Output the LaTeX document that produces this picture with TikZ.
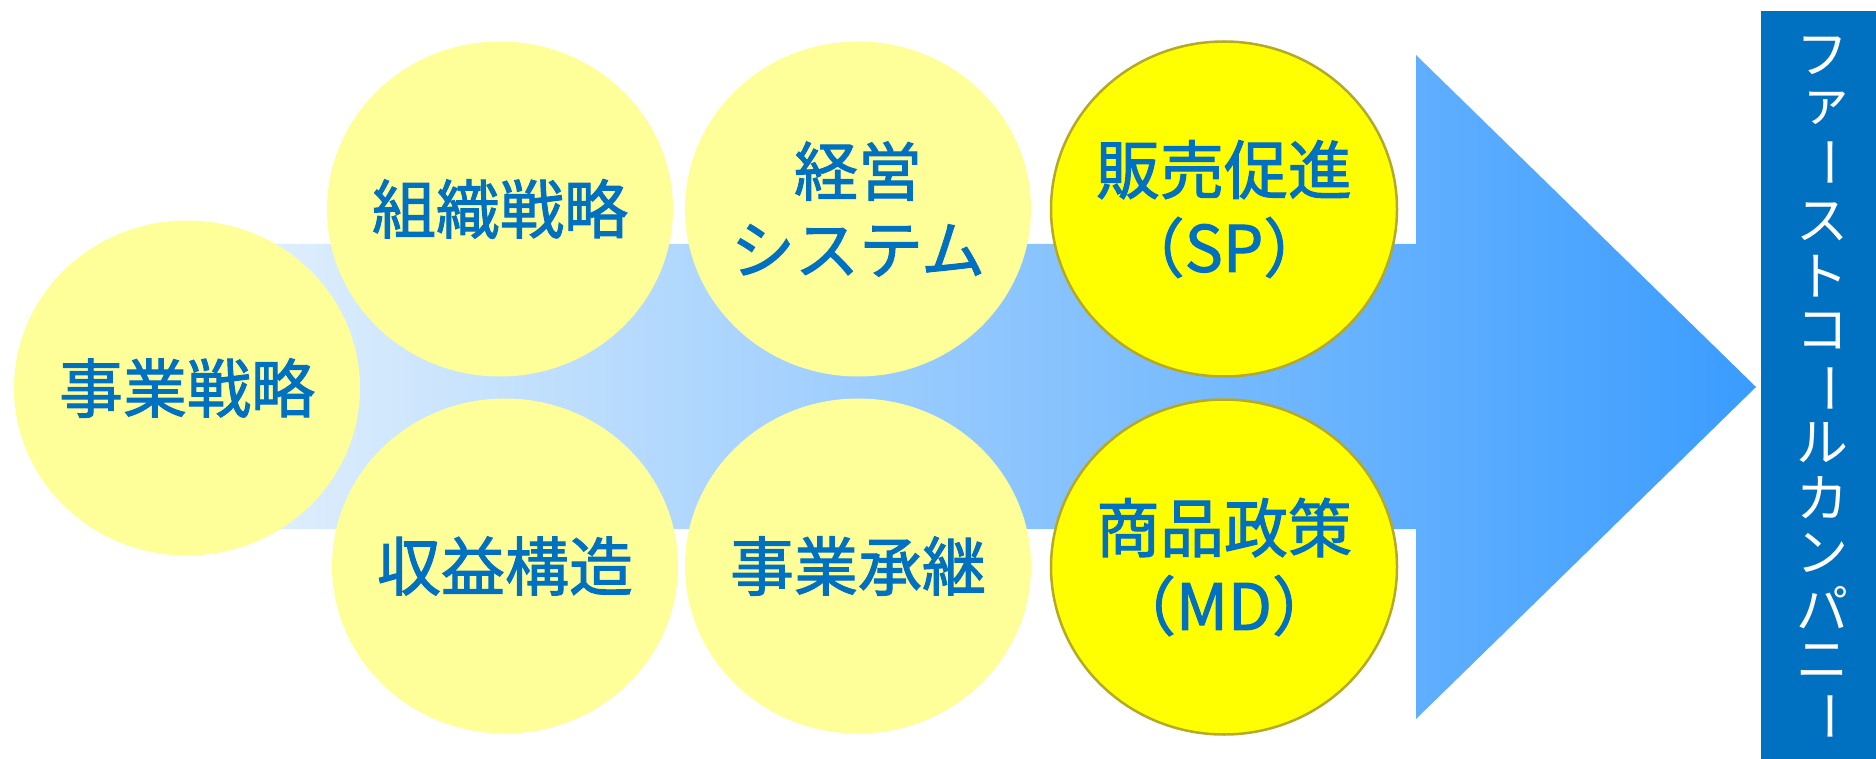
\documentclass[tikz,border=0pt]{standalone}
\usepackage{fontspec}
\newfontfamily\jp{Noto Sans CJK JP}
\newfontfamily\jpm[FakeBold=1.6]{Noto Sans CJK JP}
\usetikzlibrary{shapes.geometric}
\definecolor{txtblue}{RGB}{0,112,192}
\definecolor{boxblue}{RGB}{0,112,192}
\definecolor{paleyel}{RGB}{255,255,153}
\definecolor{brightyel}{RGB}{255,255,0}
\definecolor{yeledge}{RGB}{180,170,40}
\definecolor{arrowL}{RGB}{222,238,253}
\definecolor{arrowR}{RGB}{58,156,255}
\tikzset{
  bubble/.style={ellipse, minimum width=346pt, minimum height=335pt, inner sep=0pt,
    fill=paleyel},
  hotbubble/.style={bubble, fill=brightyel, draw=yeledge, line width=2.5pt},
  btext/.style={text=txtblue, align=center, inner sep=0pt, font=\jpm\fontsize{64}{78}\selectfont},
  vchar/.style={text=white, inner sep=0pt, font=\jp\fontsize{52}{52}\selectfont}
}
\begin{document}
\begin{tikzpicture}[x=1pt,y=-1pt]
\path[use as bounding box, fill=white] (0,0) rectangle (1876,759);
% big arrow
\path[left color=arrowL, right color=arrowR]
  (275,244) -- (1416,244) -- (1416,55) -- (1756,387) -- (1416,719) -- (1416,529) -- (275,529) -- cycle;
% bubbles
\node[bubble] (jigyo) at (187,388) {};
\node[bubble] (soshiki) at (500,209) {};
\node[bubble] (shueki) at (505,566) {};
\node[bubble] (keiei) at (858,209) {};
\node[bubble] (shokei) at (858,566) {};
\node[hotbubble] (hanbai) at (1224,209) {};
\node[hotbubble] (shohin) at (1224,567) {};
\node[btext] (t1) at (jigyo) {事業戦略};
\node[btext] (t2) at (soshiki) {組織戦略};
\node[btext] (t3) at (shueki) {収益構造};
\node[btext] (t4) at (keiei) {経営\\システム};
\node[btext] (t5) at (shokei) {事業承継};
\node[btext] (t6) at (hanbai) {販売促進\\（SP）};
\node[btext] (t7) at (shohin) {商品政策\\（MD）};
% right box
\path[fill=boxblue] (1761,11) rectangle (1876,759);
\node[vchar] (v1) at (1822,56) {フ};
\node[vchar] (v2) at (1826,108) {ァ};
\node[vchar, rotate=-90] (v3) at (1822,163) {ー};
\node[vchar] (v4) at (1822,222) {ス};
\node[vchar] (v5) at (1822,276) {ト};
\node[vchar] (v6) at (1822,331) {コ};
\node[vchar, rotate=-90] (v7) at (1822,388) {ー};
\node[vchar] (v8) at (1822,443) {ル};
\node[vchar] (v9) at (1822,498) {カ};
\node[vchar] (v10) at (1822,553) {ン};
\node[vchar] (v11) at (1822,608) {パ};
\node[vchar] (v12) at (1822,662) {ニ};
\node[vchar, rotate=-90] (v13) at (1822,716) {ー};
\end{tikzpicture}
\end{document}
